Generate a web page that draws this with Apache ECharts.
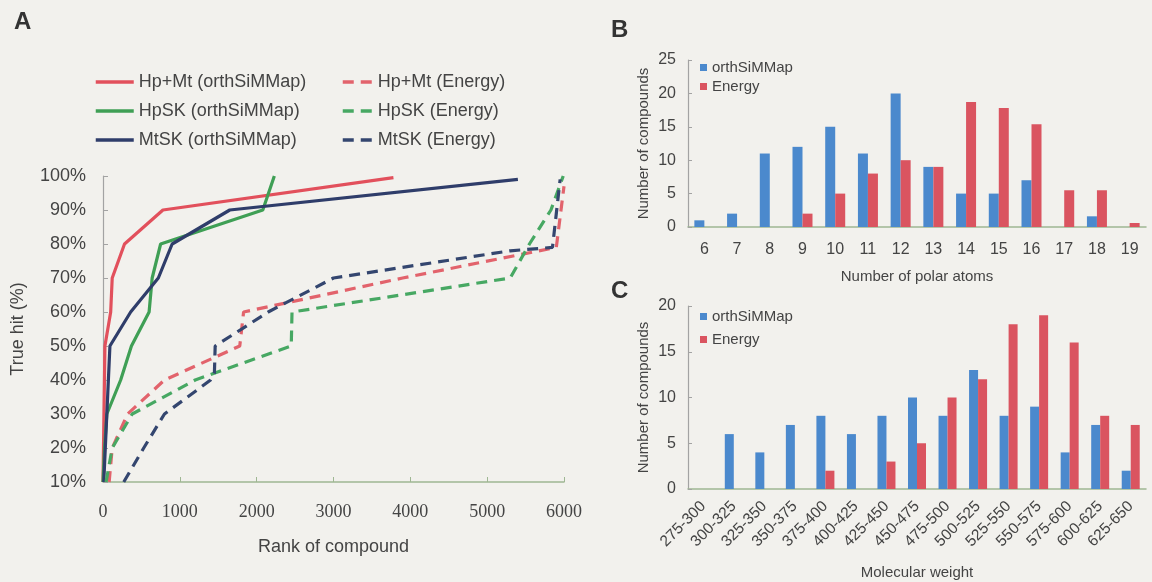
<!DOCTYPE html>
<html>
<head>
<meta charset="utf-8">
<script src="https://cdn.jsdelivr.net/npm/echarts@6/dist/echarts.min.js"></script>
<style>
html,body{margin:0;padding:0;background:#f2f1ed;}
#chart{width:1152px;height:582px;}
</style>
</head>
<body>
<div id="chart"></div>
<script>
// ---------- Panel A data (rank of compound vs true hit %) ----------
const hpmtOrthRank = [0, 25, 100, 120, 280, 780, 3780];
const hpmtOrthHit  = [10, 50, 60, 70, 80, 90, 99.5];
const hpskOrthRank = [0, 20, 50, 230, 370, 600, 640, 750, 2080, 2230];
const hpskOrthHit  = [10, 20, 30, 40, 50, 60, 70, 80, 90, 100];
const mtskOrthRank = [10, 90, 360, 720, 900, 1650, 5400];
const mtskOrthHit  = [10, 50, 60, 70, 80, 90, 99];
const hpmtEnRank = [80, 120, 320, 800, 1780, 1830, 3900, 5900, 6000];
const hpmtEnHit  = [10, 20, 30, 40, 50, 60, 70, 79, 97];
const hpskEnRank = [40, 120, 380, 1200, 2450, 2460, 5300, 5550, 5830, 5990];
const hpskEnHit  = [10, 20, 30, 40, 50, 60, 70, 80, 90, 100];
const mtskEnRank = [270, 530, 800, 1400, 1450, 1460, 2150, 3000, 5300, 5850, 5950];
const mtskEnHit  = [10, 20, 30, 40, 42, 50, 60, 70, 78, 79, 99];

// ---------- Panel B data ----------
const polarAtoms = ['6','7','8','9','10','11','12','13','14','15','16','17','18','19'];
const polarOrth   = [1, 2, 11, 12, 15, 11, 20, 9, 5, 5, 7, 0, 1.6, 0];
const polarEnergy = [0, 0, 0, 2, 5, 8, 10, 9, 18.7, 17.8, 15.4, 5.5, 5.5, 0.6];

// ---------- Panel C data ----------
const mwBins = ['275-300','300-325','325-350','350-375','375-400','400-425','425-450','450-475','475-500','500-525','525-550','550-575','575-600','600-625','625-650'];
const mwOrth   = [0, 6, 4, 7, 8, 6, 8, 10, 8, 13, 8, 9, 4, 7, 2];
const mwEnergy = [0, 0, 0, 0, 2, 0, 3, 5, 10, 12, 18, 19, 16, 8, 7];

const zip = (a, b) => a.map((v, i) => [v, b[i]]);

const TXT = '#444444';
const SANS = 'Liberation Sans, Arial, sans-serif';
const SERIF = 'Liberation Serif, Times New Roman, serif';
const AXG = '#9fb793';
const AXY = '#a3a3a3';
const RED = '#e2505c', GREEN = '#3f9f55', NAVY = '#2f3d6a';
const BLUE_BAR = '#4b89cd', RED_BAR = '#da5460';

const chart = echarts.init(document.getElementById('chart'));

function lineSeries(name, data, color, dashed) {
  return {
    name, type: 'line', xAxisIndex: 0, yAxisIndex: 0,
    data, symbol: 'none', showSymbol: false, silent: true,
    lineStyle: { color, width: 3.2, type: dashed ? [11, 7] : 'solid' },
    itemStyle: { color }
  };
}

const lineLegendCommon = {
  orient: 'vertical', top: 73, padding: 0,
  itemHeight: 14, itemGap: 11,
  itemStyle: { opacity: 0 },
  lineStyle: { width: 3.5 },
  textStyle: { fontSize: 18, color: TXT, fontFamily: SANS }
};

const option = {
  backgroundColor: '#f2f1ed',
  animation: false,
  graphic: [
    { type: 'text', left: 14, top: 10, style: { text: 'A', font: 'bold 24px ' + SANS, fill: '#333' } },
    { type: 'text', left: 611, top: 18, style: { text: 'B', font: 'bold 24px ' + SANS, fill: '#333' } },
    { type: 'text', left: 611, top: 279, style: { text: 'C', font: 'bold 24px ' + SANS, fill: '#333' } }
  ],
  legend: [
    Object.assign({}, lineLegendCommon, {
      data: ['Hp+Mt (orthSiMMap)', 'HpSK (orthSiMMap)', 'MtSK (orthSiMMap)'],
      left: 94, itemWidth: 38
    }),
    Object.assign({}, lineLegendCommon, {
      data: ['Hp+Mt (Energy)', 'HpSK (Energy)', 'MtSK (Energy)'],
      left: 341, itemWidth: 30
    }),
    {
      data: [{ name: 'orthSiMMap', itemStyle: { color: BLUE_BAR } }, { name: 'Energy', itemStyle: { color: RED_BAR } }],
      orient: 'vertical', left: 700, top: 60, padding: 0,
      icon: 'rect', itemWidth: 7, itemHeight: 7, itemGap: 4,
      textStyle: { fontSize: 15, color: TXT, fontFamily: SANS }
    },
    {
      data: [{ name: 'orthSiMMap ', itemStyle: { color: BLUE_BAR } }, { name: 'Energy ', itemStyle: { color: RED_BAR } }],
      orient: 'vertical', left: 700, top: 309, padding: 0,
      icon: 'rect', itemWidth: 7, itemHeight: 7, itemGap: 8,
      textStyle: { fontSize: 15, color: TXT, fontFamily: SANS }
    }
  ],
  grid: [
    { left: 103, top: 176, width: 461, height: 306 },
    { left: 688, top: 60, width: 458, height: 167 },
    { left: 688, top: 306, width: 458, height: 183 }
  ],
  xAxis: [
    {
      gridIndex: 0, type: 'value', min: 0, max: 6000, interval: 1000,
      name: 'Rank of compound', nameLocation: 'middle', nameGap: 56,
      nameTextStyle: { fontSize: 18, color: TXT, fontFamily: SANS },
      axisLine: { lineStyle: { color: AXG, width: 1.5 } },
      axisTick: { inside: true, length: 5, lineStyle: { color: AXG } },
      axisLabel: { fontSize: 18, color: TXT, fontFamily: SERIF, margin: 21,
        formatter: v => String(v) },
      splitLine: { show: false }
    },
    {
      gridIndex: 1, type: 'category', data: polarAtoms,
      name: 'Number of polar atoms', nameLocation: 'middle', nameGap: 42,
      nameTextStyle: { fontSize: 15, color: TXT, fontFamily: SANS },
      axisLine: { lineStyle: { color: AXG, width: 1.5 } },
      axisTick: { inside: true, length: 4, lineStyle: { color: AXG } },
      axisLabel: { fontSize: 16, color: TXT, fontFamily: SANS, margin: 15 }
    },
    {
      gridIndex: 2, type: 'category', data: mwBins,
      name: 'Molecular weight', nameLocation: 'middle', nameGap: 76,
      nameTextStyle: { fontSize: 15, color: TXT, fontFamily: SANS },
      axisLine: { lineStyle: { color: AXG, width: 1.5 } },
      axisTick: { inside: true, length: 4, lineStyle: { color: AXG } },
      axisLabel: { fontSize: 15.5, color: TXT, fontFamily: SANS, margin: 15, rotate: 45, interval: 0 }
    }
  ],
  yAxis: [
    {
      gridIndex: 0, type: 'value', min: 10, max: 100, interval: 10,
      name: 'True hit (%)', nameLocation: 'middle', nameGap: 76,
      nameTextStyle: { fontSize: 18, color: TXT, fontFamily: SANS },
      axisLine: { show: true, lineStyle: { color: AXY, width: 1.2 } },
      axisTick: { show: true, inside: true, length: 5, lineStyle: { color: AXY } },
      axisLabel: { fontSize: 18, color: TXT, fontFamily: SANS, margin: 17, formatter: '{value}%' },
      splitLine: { show: false }
    },
    {
      gridIndex: 1, type: 'value', min: 0, max: 25, interval: 5,
      name: 'Number of compounds', nameLocation: 'middle', nameGap: 37,
      nameTextStyle: { fontSize: 15, color: TXT, fontFamily: SANS },
      axisLine: { show: true, lineStyle: { color: AXY, width: 1.2 } },
      axisTick: { show: true, inside: true, length: 4, lineStyle: { color: AXY } },
      axisLabel: { fontSize: 16, color: TXT, fontFamily: SANS, margin: 12 },
      splitLine: { show: false }
    },
    {
      gridIndex: 2, type: 'value', min: 0, max: 20, interval: 5,
      name: 'Number of compounds', nameLocation: 'middle', nameGap: 37,
      nameTextStyle: { fontSize: 15, color: TXT, fontFamily: SANS },
      axisLine: { show: true, lineStyle: { color: AXY, width: 1.2 } },
      axisTick: { show: true, inside: true, length: 4, lineStyle: { color: AXY } },
      axisLabel: { fontSize: 16, color: TXT, fontFamily: SANS, margin: 12 },
      splitLine: { show: false }
    }
  ],
  series: [
    lineSeries('Hp+Mt (orthSiMMap)', zip(hpmtOrthRank, hpmtOrthHit), RED, false),
    lineSeries('HpSK (orthSiMMap)', zip(hpskOrthRank, hpskOrthHit), GREEN, false),
    lineSeries('MtSK (orthSiMMap)', zip(mtskOrthRank, mtskOrthHit), NAVY, false),
    lineSeries('Hp+Mt (Energy)', zip(hpmtEnRank, hpmtEnHit), '#e2636c', true),
    lineSeries('HpSK (Energy)', zip(hpskEnRank, hpskEnHit), '#47a863', true),
    lineSeries('MtSK (Energy)', zip(mtskEnRank, mtskEnHit), '#34466f', true),
    { name: 'orthSiMMap', type: 'bar', xAxisIndex: 1, yAxisIndex: 1, data: polarOrth,
      barWidth: 10, barGap: '0%', itemStyle: { color: BLUE_BAR } },
    { name: 'Energy', type: 'bar', xAxisIndex: 1, yAxisIndex: 1, data: polarEnergy,
      barWidth: 10, barGap: '0%', itemStyle: { color: RED_BAR } },
    { name: 'orthSiMMap ', type: 'bar', xAxisIndex: 2, yAxisIndex: 2, data: mwOrth,
      barWidth: 9, barGap: '0%', itemStyle: { color: BLUE_BAR } },
    { name: 'Energy ', type: 'bar', xAxisIndex: 2, yAxisIndex: 2, data: mwEnergy,
      barWidth: 9, barGap: '0%', itemStyle: { color: RED_BAR } }
  ]
};
chart.setOption(option);
</script>
</body>
</html>
